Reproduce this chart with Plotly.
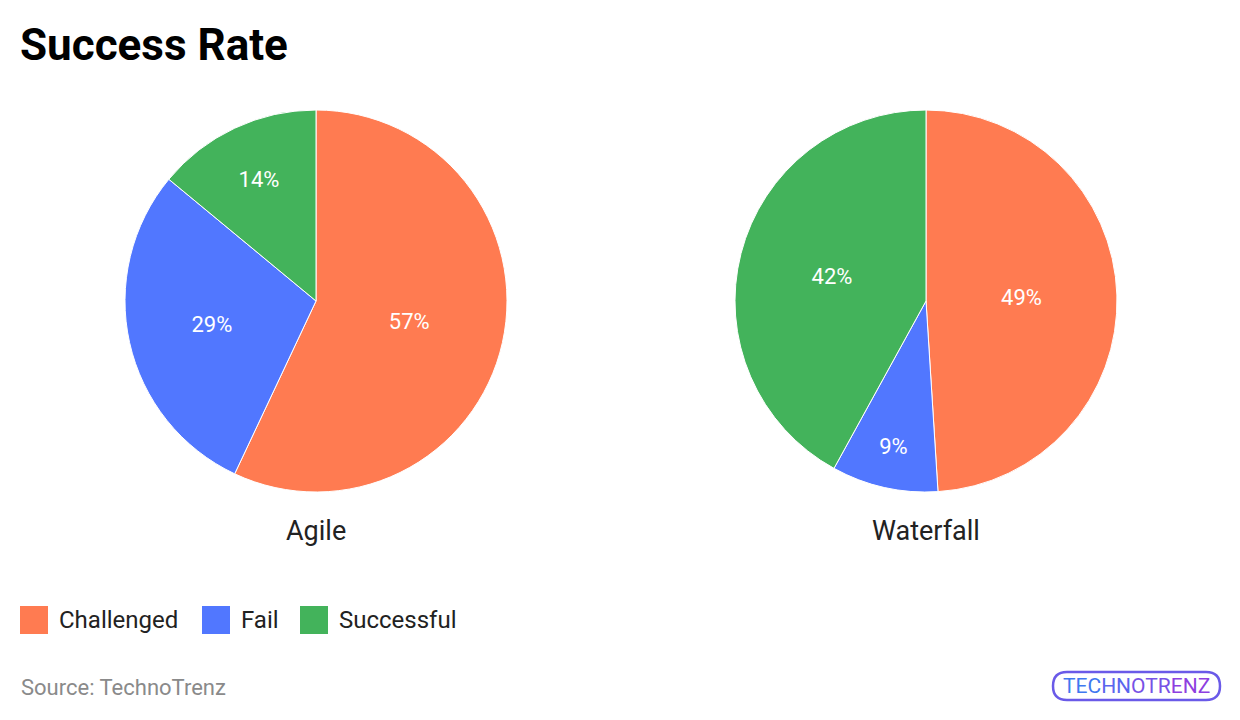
import plotly.graph_objects as go

# Data
categories = ["Challenged", "Fail", "Successful"]
agile_values = [57, 29, 14]
waterfall_values = [49, 9, 42]
colors = ["#FF7B51", "#5177FF", "#43B35B"]

W, H = 1240, 720
OFF = 8  # page body margin


def px_x(v):
    return (v - OFF) / W


def px_y(v):
    return 1 - (v - OFF) / H


fig = go.Figure()

# pie geometry (pixels): centers and radius
r = 191
for name, vals, cx in [("Agile", agile_values, 316), ("Waterfall", waterfall_values, 926)]:
    fig.add_trace(go.Pie(
        labels=categories,
        values=vals,
        name=name,
        sort=False,
        direction="clockwise",
        rotation=0,
        marker=dict(colors=colors, line=dict(color="white", width=1)),
        texttemplate="%{value}%",
        textposition="inside",
        insidetextorientation="horizontal",
        textfont=dict(family="Roboto", size=22, color="white"),
        hoverinfo="label+value",
        showlegend=False,
        domain=dict(x=[px_x(cx - r), px_x(cx + r)], y=[px_y(110 + 2 * r), px_y(110)]),
    ))
    fig.add_annotation(
        text=name, x=px_x(cx), y=px_y(531), xref="paper", yref="paper",
        xanchor="center", yanchor="middle", showarrow=False,
        font=dict(family="Roboto", size=27, color="#222222"),
    )

# legend drawn by hand to get the large square swatches
legend_x = [20, 202, 300]
for cat, col, lx in zip(categories, colors, legend_x):
    fig.add_shape(
        type="rect", xref="paper", yref="paper",
        x0=px_x(lx), x1=px_x(lx + 28), y0=px_y(634), y1=px_y(606),
        fillcolor=col, line=dict(width=0),
    )
    fig.add_annotation(
        text=cat, x=px_x(lx + 37), y=px_y(620), xref="paper", yref="paper",
        xanchor="left", yanchor="middle", showarrow=False,
        font=dict(family="Roboto", size=24, color="#222222"),
    )

# title and source
fig.add_annotation(
    text="<b>Success Rate</b>", x=px_x(18), y=px_y(45), xref="paper", yref="paper",
    xanchor="left", yanchor="middle", showarrow=False,
    font=dict(family="Roboto", size=44, color="#000000"),
)
fig.add_annotation(
    text="Source: TechnoTrenz", x=px_x(19), y=px_y(687), xref="paper", yref="paper",
    xanchor="left", yanchor="middle", showarrow=False,
    font=dict(family="Roboto", size=22, color="#8a8a8a"),
)

# logo approximation
x0, x1, y0, y1 = 1053, 1220, 672, 700
rr = 14
path = (f"M {px_x(x0 + rr)},{px_y(y0)} L {px_x(x1 - rr)},{px_y(y0)} "
        f"Q {px_x(x1)},{px_y(y0)} {px_x(x1)},{px_y((y0 + y1) / 2)} "
        f"Q {px_x(x1)},{px_y(y1)} {px_x(x1 - rr)},{px_y(y1)} "
        f"L {px_x(x0 + rr)},{px_y(y1)} "
        f"Q {px_x(x0)},{px_y(y1)} {px_x(x0)},{px_y((y0 + y1) / 2)} "
        f"Q {px_x(x0)},{px_y(y0)} {px_x(x0 + rr)},{px_y(y0)} Z")
fig.add_shape(type="path", path=path, xref="paper", yref="paper",
              line=dict(color="#6a5ae8", width=2.5))
fig.add_annotation(
    text=("<span style='color:#3f78f0'>TEC</span><span style='color:#5a66ee'>HN</span>"
          "<span style='color:#7752e6'>OTR</span><span style='color:#8e3fe0'>ENZ</span>"),
    x=px_x((x0 + x1) / 2), y=px_y((y0 + y1) / 2), xref="paper", yref="paper",
    xanchor="center", yanchor="middle", showarrow=False,
    font=dict(family="Roboto", size=21, color="#6a5ae8"),
)

fig.update_layout(
    width=W, height=H,
    margin=dict(l=0, r=0, t=0, b=0),
    paper_bgcolor="white",
    plot_bgcolor="white",
    font=dict(family="Roboto"),
)

fig.write_html("out.html")
